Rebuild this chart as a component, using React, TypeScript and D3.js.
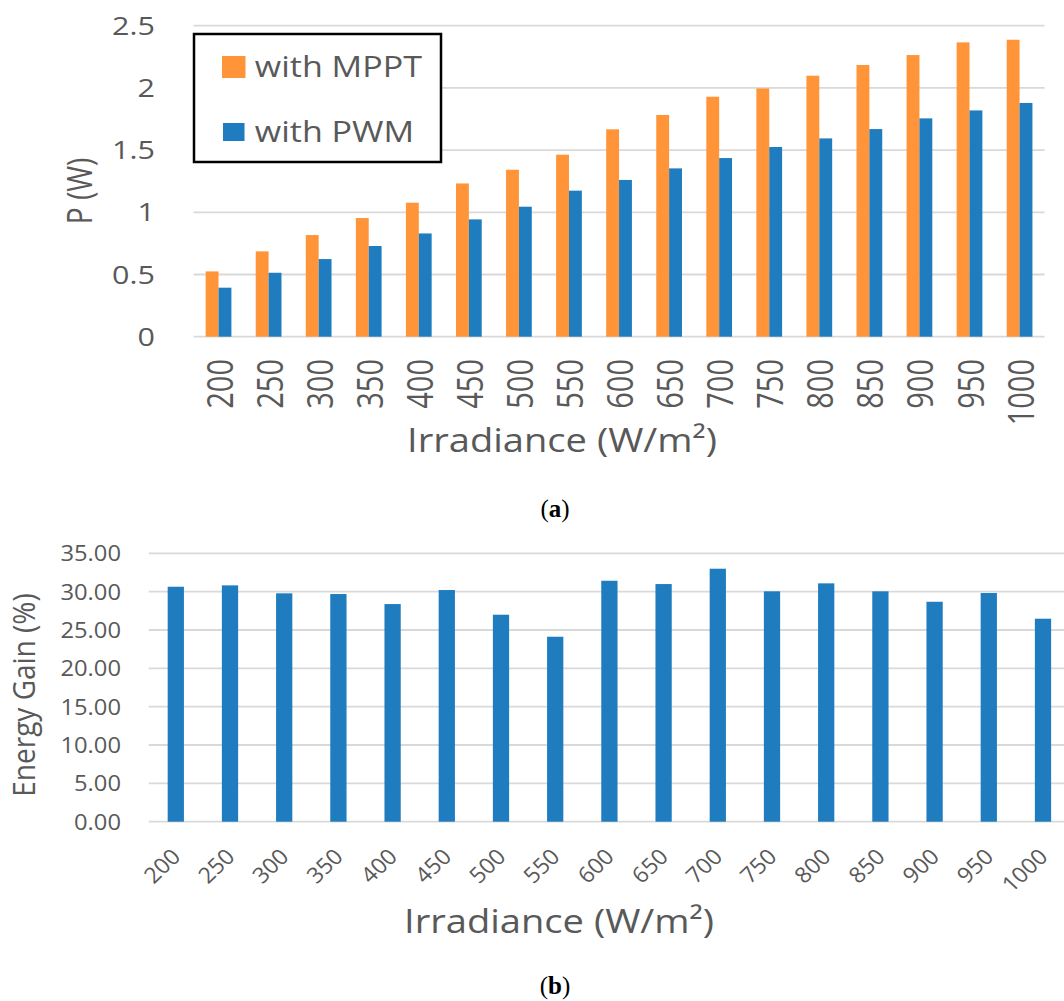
import { scaleBand, scaleLinear } from "d3";

// irradiance categories (W/m²)
const irradiance = ["200", "250", "300", "350", "400", "450", "500", "550", "600", "650", "700", "750", "800", "850", "900", "950", "1000"];

// (a) power with each controller (W)
const mpptPower = [0.525, 0.686, 0.817, 0.954, 1.077, 1.232, 1.342, 1.463, 1.667, 1.782, 1.929, 1.996, 2.098, 2.184, 2.264, 2.366, 2.387];
const pwmPower = [0.394, 0.514, 0.624, 0.729, 0.83, 0.943, 1.045, 1.174, 1.26, 1.353, 1.436, 1.525, 1.594, 1.669, 1.755, 1.819, 1.879];
const seriesNames = ["with MPPT", "with PWM"];

// (b) energy gain (%)
const energyGain = [30.64, 30.82, 29.78, 29.69, 28.38, 30.21, 26.99, 24.12, 31.42, 30.99, 32.99, 30.04, 31.08, 30.04, 28.68, 29.82, 26.47];

const topTicks = [0, 0.5, 1, 1.5, 2, 2.5];
const bottomTicks = [0, 5, 10, 15, 20, 25, 30, 35];

const ORANGE = "#FF9538";
const BLUE = "#1F7DBF";
const GRID = "#D9D9D9";
const TEXT = "#595959";
const FONT = "'Open Sans', sans-serif";

// the picture is a little wider than tall, so text is stretched horizontally
const tf = (x: number, y: number, sx: number, rot = 0) =>
  `translate(${x},${y}) scale(${sx},1) rotate(${rot})`;

const App = () => {
  const W = 1064;
  const H = 1001;

  // ---- chart (a) ----
  const xA = scaleBand<string>().domain(irradiance).range([193.5, 1044.6]).paddingInner(0.486).paddingOuter(0.243);
  const xInner = scaleBand<string>().domain(seriesNames).range([0, xA.bandwidth()]);
  const yA = scaleLinear().domain([0, 2.5]).range([336.7, 25.7]);
  const seriesA = [
    { name: seriesNames[0], color: ORANGE, values: mpptPower },
    { name: seriesNames[1], color: BLUE, values: pwmPower },
  ];

  // ---- chart (b) ----
  const xB = scaleBand<string>().domain(irradiance).range([148.7, 1070.1]).paddingInner(0.7).paddingOuter(0.35);
  const yB = scaleLinear().domain([0, 35]).range([821.7, 553.3]);

  return (
    <svg width={W} height={H} style={{ position: "absolute", left: 0, top: 0, background: "#fff" }} fontFamily={FONT}>
      {/* ===== (a) ===== */}
      <g>
        {topTicks.map((t) => (
          <g key={t}>
            <line x1={193.5} x2={1044.6} y1={yA(t)} y2={yA(t)} stroke={GRID} strokeWidth={1.8} />
            <text transform={tf(155, yA(t), 1.22)} dy="0.36em" textAnchor="end" fontSize={25} fill={TEXT}>
              {t}
            </text>
          </g>
        ))}
        {seriesA.map((s) =>
          s.values.map((v, i) => (
            <rect
              key={s.name + i}
              x={(xA(irradiance[i]) as number) + (xInner(s.name) as number)}
              y={yA(v)}
              width={xInner.bandwidth()}
              height={yA(0) - yA(v)}
              fill={s.color}
            />
          ))
        )}
        {irradiance.map((c) => (
          <text
            key={c}
            transform={tf((xA(c) as number) + xA.bandwidth() / 2 + 14, 359, 1.27, -90)}
            textAnchor="end"
            fontSize={29}
            fill={TEXT}
          >
            {c}
          </text>
        ))}
        <text transform={tf(562, 452, 1.155)} textAnchor="middle" fontSize={33} fill={TEXT}>
          Irradiance (W/m²)
        </text>
        <text transform={tf(92, 191, 1.22, -90)} textAnchor="middle" fontSize={28} fill={TEXT}>
          P (W)
        </text>

        {/* legend */}
        <rect x={194} y={34} width={247} height={128} fill="#fff" stroke="#000" strokeWidth={2.5} />
        <rect x={222} y={56} width={23.5} height={22} fill={ORANGE} />
        <rect x={223} y={123} width={21.5} height={18} fill={BLUE} />
        <text transform={tf(254.8, 76.7, 1.135)} fontSize={30} fill={TEXT}>
          {seriesNames[0]}
        </text>
        <text transform={tf(254.8, 141.7, 1.135)} fontSize={30} fill={TEXT}>
          {seriesNames[1]}
        </text>

        <text x={555} y={517} textAnchor="middle" fontSize={25} fontFamily="'Liberation Serif', serif" fill="#000">
          (<tspan fontWeight="bold">a</tspan>)
        </text>
      </g>

      {/* ===== (b) ===== */}
      <g>
        {bottomTicks.map((t) => (
          <g key={t}>
            <line x1={148.7} x2={W} y1={yB(t)} y2={yB(t)} stroke={GRID} strokeWidth={1.8} />
            <text transform={tf(121, yB(t), 1.08)} dy="0.36em" textAnchor="end" fontSize={22} fill={TEXT}>
              {t.toFixed(2)}
            </text>
          </g>
        ))}
        {energyGain.map((v, i) => (
          <rect
            key={i}
            x={xB(irradiance[i]) as number}
            y={yB(v)}
            width={xB.bandwidth()}
            height={yB(0) - yB(v)}
            fill={BLUE}
          />
        ))}
        {irradiance.map((c) => (
          <text
            key={c}
            transform={tf((xB(c) as number) + xB.bandwidth() / 2 + 6, 858, 1.05, -45)}
            textAnchor="end"
            fontSize={22}
            fill={TEXT}
          >
            {c}
          </text>
        ))}
        <text transform={tf(559, 933, 1.155)} textAnchor="middle" fontSize={33} fill={TEXT}>
          Irradiance (W/m²)
        </text>
        <text transform={tf(34.5, 695, 1.08, -90)} textAnchor="middle" fontSize={28} fill={TEXT}>
          Energy Gain (%)
        </text>

        <text x={555} y={994} textAnchor="middle" fontSize={25} fontFamily="'Liberation Serif', serif" fill="#000">
          (<tspan fontWeight="bold">b</tspan>)
        </text>
      </g>
    </svg>
  );
};

export default App;
